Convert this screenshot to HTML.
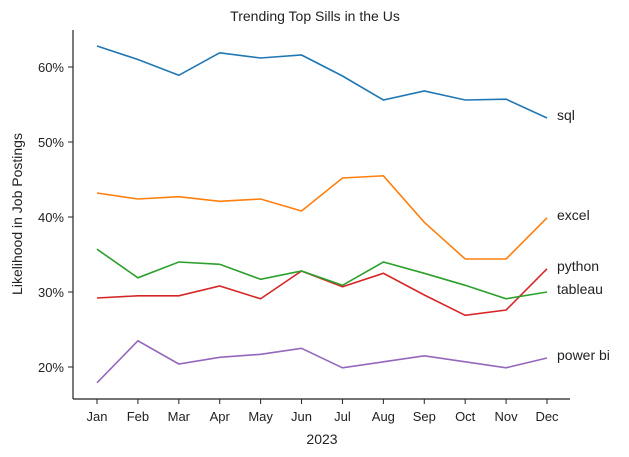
<!DOCTYPE html>
<html><head><meta charset="utf-8"><style>
html,body{margin:0;padding:0;background:#fff;}
svg{display:block;font-family:"Liberation Sans","DejaVu Sans",sans-serif;}
</style></head><body>
<svg id="chart" width="629" height="457"></svg>
<script>
const months=["Jan","Feb","Mar","Apr","May","Jun","Jul","Aug","Sep","Oct","Nov","Dec"];
const seriesNames=["sql","excel","python","tableau","power bi"];
const sqlVals=[62.8,61.0,58.9,61.9,61.2,61.6,58.8,55.6,56.8,55.6,55.7,53.2];
const excelVals=[43.2,42.4,42.7,42.1,42.4,40.8,45.2,45.5,39.3,34.4,34.4,39.9];
const pythonVals=[29.2,29.5,29.5,30.8,29.1,32.8,30.7,32.5,29.6,26.9,27.6,33.1];
const tableauVals=[35.7,31.9,34.0,33.7,31.7,32.8,30.9,34.0,32.5,30.9,29.1,30.0];
const powerbiVals=[17.9,23.5,20.4,21.3,21.7,22.5,19.9,20.7,21.5,20.7,19.9,21.2];
const yTicks=[20,30,40,50,60];
const NS="http://www.w3.org/2000/svg";
const svg=document.getElementById('chart');
const colors=["#1f77b4","#ff7f0e","#d62728","#2ca02c","#9467bd"];
const allVals=[sqlVals,excelVals,pythonVals,tableauVals,powerbiVals];
const L=73,R=570,T=30,B=399;
const x=i=>97+i*(547-97)/11;
const y=v=>67+(60-v)*7.5;
function mk(tag,attrs,txt){const e=document.createElementNS(NS,tag);for(const k in attrs)e.setAttribute(k,attrs[k]);if(txt!==undefined)e.textContent=txt;svg.appendChild(e);return e;}
let e;
e=mk('text',{x:315,y:21,'text-anchor':'middle','font-size':14,fill:'#222'},'Trending Top Sills in the Us');


e=mk('line',{x1:L,y1:T,x2:L,y2:B,stroke:'#222','stroke-width':1.2});


e=mk('line',{x1:L,y1:B,x2:R,y2:B,stroke:'#222','stroke-width':1.2});


yTicks.forEach(t=>{
  mk('line',{x1:L-5,y1:y(t),x2:L,y2:y(t),stroke:'#222'});
  e=mk('text',{x:L-9,y:y(t)+5,'text-anchor':'end','font-size':13,fill:'#222'},t+'%');
  
  
});
months.forEach((m,i)=>{
  mk('line',{x1:x(i),y1:B,x2:x(i),y2:B+5,stroke:'#222'});
  e=mk('text',{x:x(i),y:B+22,'text-anchor':'middle','font-size':13,fill:'#222'},m);
  
  
});
e=mk('text',{x:322,y:444,'text-anchor':'middle','font-size':14,fill:'#222'},'2023');


e=mk('text',{x:22,y:214,'text-anchor':'middle','font-size':14,fill:'#222',transform:'rotate(-90 22 214)'},'Likelihood in Job Postings');


allVals.forEach((vals,s)=>{
  const pts=vals.map((v,i)=>x(i).toFixed(1)+','+y(v).toFixed(1)).join(' ');
  e=mk('polyline',{points:pts,fill:'none',stroke:colors[s],'stroke-width':1.6});
  
  
  e=mk('text',{x:557,y:y(vals[11])+2,'font-size':14,fill:'#222'},seriesNames[s]);
  
  
});
</script>
</body></html>
